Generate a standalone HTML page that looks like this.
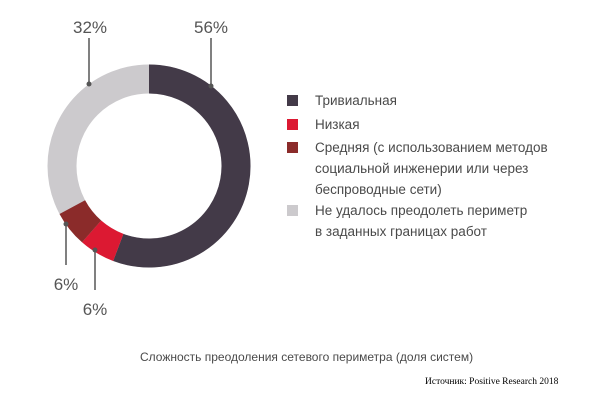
<!DOCTYPE html>
<html><head><meta charset="utf-8"><style>
body{margin:0;background:#fff;width:600px;height:401px;overflow:hidden;position:relative;font-family:"Liberation Sans",sans-serif;}
.t{position:absolute;color:#4a4a4a;font-size:13.5px;line-height:21px;}
.sq{position:absolute;width:11px;height:11px;left:287px;}
</style></head><body>
<svg width="600" height="401" style="position:absolute;left:0;top:0">
<g fill="none" stroke-width="29" transform="translate(149,166)">
<circle r="87" stroke="#cccacd"/>
<path d="M0,-87 A87,87 0 1,1 -30.7,81.4" stroke="#433a48"/>
<path d="M-30.7,81.4 A87,87 0 0,1 -57.4,65.4" stroke="#dc1932"/>
<path d="M-57.4,65.4 A87,87 0 0,1 -76.7,41.1" stroke="#8b2b2a"/>
</g>
<g stroke="#555" stroke-width="1.5">
<line x1="211" y1="38" x2="211" y2="86"/><line x1="89" y1="38" x2="89" y2="84"/>
<line x1="66" y1="224" x2="66" y2="265"/><line x1="95" y1="250" x2="95" y2="290"/>
</g>
<g fill="#555"><circle cx="211" cy="86" r="2.5"/><circle cx="89" cy="84" r="2.5"/><circle cx="66" cy="224" r="2.5"/><circle cx="95" cy="250" r="2.5"/></g>
<g font-family="Liberation Sans,sans-serif" font-size="17" fill="#555" text-anchor="middle">
<text x="211" y="33">56%</text><text x="90" y="33">32%</text><text x="66" y="290">6%</text><text x="95" y="315">6%</text>
</g>
</svg>
<div class="sq" style="top:95px;background:#433a48"></div>
<div class="sq" style="top:119px;background:#dc1932"></div>
<div class="sq" style="top:142px;background:#8b2b2a"></div>
<div class="sq" style="top:205px;background:#cccacd"></div>
<div class="t" style="left:315px;top:90px">Тривиальная</div>
<div class="t" style="left:315px;top:114px">Низкая</div>
<div class="t" style="left:315px;top:137px;width:280px">Средняя (с использованием методов<br>социальной инженерии или через<br>беспроводные сети)</div>
<div class="t" style="left:315px;top:200px">Не удалось преодолеть периметр<br>в заданных границах работ</div>
<div class="t" style="left:140px;top:347px;font-size:12px">Сложность преодоления сетевого периметра (доля систем)</div>
<div style="position:absolute;left:425px;top:377px;font-family:'Liberation Serif',serif;font-size:9.5px;color:#000">Источник: Positive Research 2018</div>
</body></html>
